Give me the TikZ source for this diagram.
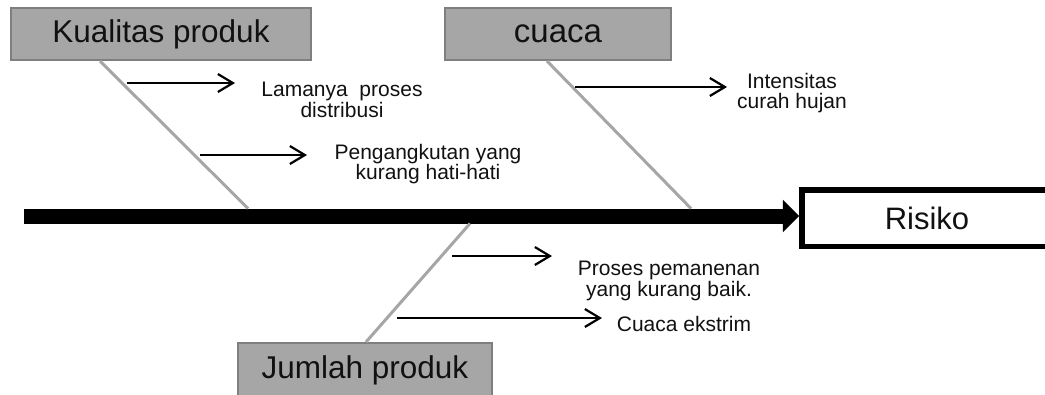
\documentclass[tikz,border=0pt]{standalone}
\usepackage{fontspec}
\setmainfont{Liberation Sans}
\usetikzlibrary{arrows.meta,calc}
\definecolor{boxgray}{HTML}{A6A6A6}
\definecolor{boxedge}{HTML}{7F7F7F}
\definecolor{bonegray}{HTML}{A6A6A6}
\definecolor{ink}{HTML}{111111}
\begin{document}
\begin{tikzpicture}[x=1pt,y=-1pt,
  catbox/.style={draw=boxedge, fill=boxgray, line width=2pt, minimum height=52pt, inner sep=0pt,
    text=ink, font=\fontsize{31.5}{32}\selectfont},
  riskbox/.style={draw=black, fill=white, line width=5.5pt, minimum width=250pt, minimum height=56.5pt,
    inner sep=0pt, text=ink, font=\fontsize{31}{32}\selectfont},
  bone/.style={draw=bonegray, line width=3pt},
  spine/.style={draw=black, line width=15pt, -{Triangle[length=16.5pt,width=31.6pt]}},
  cause/.style={draw=black, line width=2.2pt, -{Straight Barb[length=15pt,width=18pt]}},
  causetext/.style={font=\fontsize{21}{20.5}\selectfont, text=ink, align=center, inner sep=0pt},
]
\useasboundingbox (0,0) rectangle (1045,394);
\fill[white] (0,0) rectangle (1045,394);
\clip (0,0) rectangle (1045,394);

% category boxes and effect box
\node[catbox, minimum width=300pt] (kp) at (161,34) {Kualitas produk};
\node[catbox, minimum width=226pt, font=\fontsize{33}{34}\selectfont] (cu) at (558,34) {cuaca};
\node[catbox, minimum width=254pt, minimum height=54pt] (jp) at (365,370) {Jumlah produk};
\node[riskbox] (risk) at (927,218) {Risiko};

% spine
\coordinate (sp) at (24,216);
\draw[spine] (sp) -- (sp -| risk.west);

% bones
\coordinate (k0) at (248,208.5);
\coordinate (c0) at (691,208.5);
\coordinate (j0) at (470,223.5);
\draw[bone] ([xshift=-61pt]kp.south) -- (k0);
\draw[bone] ([xshift=-11pt]cu.south) -- (c0);
\draw[bone] ([xshift=1pt]jp.north) -- (j0);

% cause texts
\node[causetext] (t1) at (342,100) {Lamanya\ \ proses\\distribusi};
\node[causetext] (t2) at (428,164) {Pengangkutan yang\\kurang hati-hati};
\node[causetext] (t3) at (792,93) {Intensitas\\curah hujan};
\node[causetext] (t4) at (669,281) {Proses pemanenan\\yang kurang baik.};
\node[causetext] (t5) at (684,323.5) {Cuaca ekstrim};

% cause arrows
\coordinate (a1s) at (127,83);  \coordinate (a1e) at (235,83);
\coordinate (a2s) at (200,155); \coordinate (a2e) at (307,155);
\coordinate (a3s) at (575,87);  \coordinate (a3e) at (727,87);
\coordinate (a4s) at (452,256); \coordinate (a4e) at (552,256);
\coordinate (a5s) at (397,318); \coordinate (a5e) at (602,318);
\draw[cause] (a1s) -- (a1e);
\draw[cause] (a2s) -- (a2e);
\draw[cause] (a3s) -- (a3e);
\draw[cause] (a4s) -- (a4e);
\draw[cause] (a5s) -- (a5e);
\end{tikzpicture}
\end{document}
